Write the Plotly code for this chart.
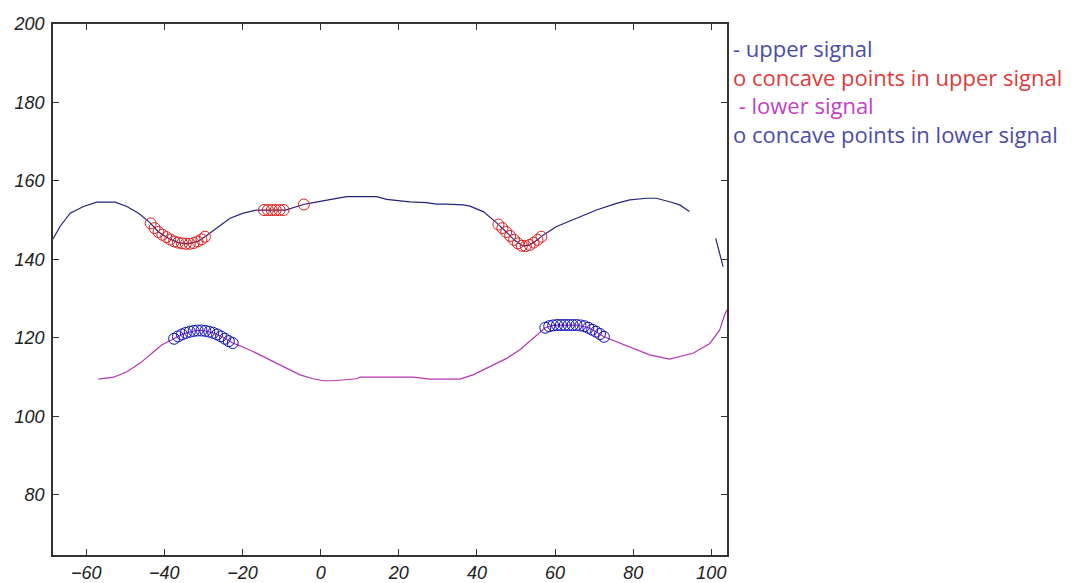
import plotly.graph_objects as go

# Upper signal trace (None marks the break in the signal)
upper_x = [-68.5, -66.7, -64.1, -60.7, -57.3, -54.0, -52.6, -49.6, -46.6, -43.7,
           -41.5, -39.0, -36.5, -34.0, -31.5, -29.6, -26.6, -23.2, -19.8, -16.4,
           -9.0, -4.4, -1.9, 2.4, 6.6, 14.3, 16.9, 22.8, 27.1, 29.7,
           32.2, 36.5, 38.2, 41.6, 45.0, 47.5, 49.5, 51.8, 53.5, 55.5,
           56.9, 60.4, 65.5, 70.6, 75.7, 79.1, 83.4, 85.9, 89.3, 91.9,
           94.4, None, 101.1, 103.0]
upper_y = [145.2, 148.4, 151.8, 153.5, 154.6, 154.7, 154.6, 153.5, 151.8, 149.4,
           147.0, 145.4, 144.3, 144.0, 144.6, 145.8, 148.0, 150.5, 151.8, 152.6,
           152.6, 154.0, 154.5, 155.3, 156.0, 156.0, 155.3, 154.7, 154.5, 154.1,
           154.1, 153.9, 153.6, 152.2, 149.4, 147.0, 145.0, 143.4, 143.7, 145.0,
           146.2, 148.4, 150.5, 152.6, 154.3, 155.2, 155.6, 155.6, 154.7, 153.9,
           152.2, None, 145.4, 138.2]

# Concave points found on the upper signal
upper_cc_x = [-43.5, -42.5, -41.5, -40.5, -39.5, -38.5, -37.5, -36.5, -35.5, -34.5,
              -33.5, -32.5, -31.5, -30.5, -29.6,
              -14.5, -13.5, -12.5, -11.5, -10.5, -9.5,
              -4.3,
              45.5, 46.5, 47.5, 48.5, 49.5, 50.5, 51.5, 52.5, 53.5, 54.5, 55.5, 56.5]
upper_cc_y = [149.2, 148.0, 147.0, 146.3, 145.7, 145.1, 144.6, 144.3, 144.1, 144.0,
              144.0, 144.2, 144.6, 145.1, 145.8,
              152.6, 152.6, 152.6, 152.6, 152.6, 152.6,
              154.0,
              148.9, 148.0, 147.0, 146.0, 145.0, 144.1, 143.5, 143.4, 143.7, 144.3, 145.0, 145.8]

# Lower signal trace
lower_x = [-56.9, -53.0, -49.6, -46.2, -43.2, -40.7, -39.0, -37.5, -35.0, -32.0,
           -30.0, -27.5, -25.0, -22.5, -20.6, -17.2, -13.0, -8.7, -5.3, -1.9,
           0.7, 3.2, 9.2, 10.1, 23.7, 28.0, 35.6, 39.0, 43.3, 47.6,
           51.0, 54.4, 56.1, 57.5, 59.5, 62.0, 65.5, 68.5, 70.5, 72.5,
           74.0, 79.1, 84.2, 89.3, 95.3, 99.6, 102.1, 103.4, 104.0]
lower_y = [109.5, 110.0, 111.4, 113.6, 116.1, 118.2, 119.1, 119.8, 121.1, 121.9,
           121.9, 121.3, 120.2, 118.7, 118.0, 116.5, 114.4, 112.3, 110.6, 109.6,
           109.1, 109.1, 109.6, 110.0, 110.0, 109.5, 109.5, 110.6, 112.7, 114.8,
           117.0, 119.9, 121.6, 122.6, 123.2, 123.3, 123.3, 122.6, 121.6, 120.3,
           119.7, 117.8, 115.7, 114.6, 116.1, 118.6, 122.0, 125.9, 127.2]

# Concave points found on the lower signal
lower_cc_x = [-37.5, -36.5, -35.5, -34.5, -33.5, -32.5, -31.5, -30.5, -29.5, -28.5,
              -27.5, -26.5, -25.5, -24.5, -23.5, -22.5,
              57.5, 58.5, 59.5, 60.5, 61.5, 62.5, 63.5, 64.5, 65.5, 66.5,
              67.5, 68.5, 69.5, 70.5, 71.5, 72.5]
lower_cc_y = [119.8, 120.4, 120.9, 121.3, 121.6, 121.8, 121.9, 121.9, 121.8, 121.6,
              121.3, 120.9, 120.4, 119.8, 119.2, 118.7,
              122.6, 123.0, 123.2, 123.3, 123.3, 123.3, 123.3, 123.3, 123.3, 123.2,
              123.0, 122.6, 122.1, 121.6, 121.0, 120.3]

x_ticks = [-60, -40, -20, 0, 20, 40, 60, 80, 100]
y_ticks = [80, 100, 120, 140, 160, 180, 200]

legend_lines = [
    ("- upper signal", "#4b4bab"),
    ("o concave points in upper signal", "#e03a3a"),
    ("\u00a0- lower signal", "#c23fc2"),
    ("o concave points in lower signal", "#4b4bab"),
]

fig = go.Figure()
fig.add_trace(go.Scatter(x=upper_x, y=upper_y, mode="lines",
                         line=dict(color="#24247a", width=1.2), connectgaps=False))
fig.add_trace(go.Scatter(x=upper_cc_x, y=upper_cc_y, mode="markers",
                         marker=dict(symbol="circle-open", size=11, color="#e01c1c",
                                     line=dict(width=1))))
fig.add_trace(go.Scatter(x=lower_x, y=lower_y, mode="lines",
                         line=dict(color="#b536b5", width=1.2)))
fig.add_trace(go.Scatter(x=lower_cc_x, y=lower_cc_y, mode="markers",
                         marker=dict(symbol="circle-open", size=11, color="#1010b8",
                                     line=dict(width=1))))

W, H = 1092, 583
ML, MR, MT, MB = 53, 365, 24, 28
plot_w = W - ML - MR
plot_h = H - MT - MB

# Coloured text key to the right of the axes, one line per series
key_text = "<br>".join(f"<span style='color:{c}'>{t}</span>" for t, c in legend_lines)
key_center_px = 91
annotations = [dict(
    text=key_text, xref="paper", yref="paper",
    x=(731 - ML) / plot_w, y=1 - (key_center_px - MT) / plot_h,
    xanchor="left", yanchor="middle", align="left", showarrow=False,
    font=dict(family="Open Sans", size=22, color="#4b4bab"))]

axis_common = dict(
    showgrid=False, zeroline=False, showline=True, linecolor="#333333", linewidth=1.5,
    mirror="ticks", ticks="inside", ticklen=6, tickwidth=1, tickcolor="#333333",
    automargin=False,
    tickfont=dict(family="Liberation Sans", size=18, color="#222222", style="italic"),
)

fig.update_layout(
    width=W, height=H,
    margin=dict(l=ML, r=MR, t=MT, b=MB, autoexpand=False),
    paper_bgcolor="white", plot_bgcolor="white",
    showlegend=False,
    xaxis=dict(range=[-68.5, 104], tickvals=x_ticks, ticklabelstandoff=1, **axis_common),
    yaxis=dict(range=[64.7, 200], tickvals=y_ticks, ticklabelstandoff=3, **axis_common),
    annotations=annotations,
)

fig.write_html("out.html")
